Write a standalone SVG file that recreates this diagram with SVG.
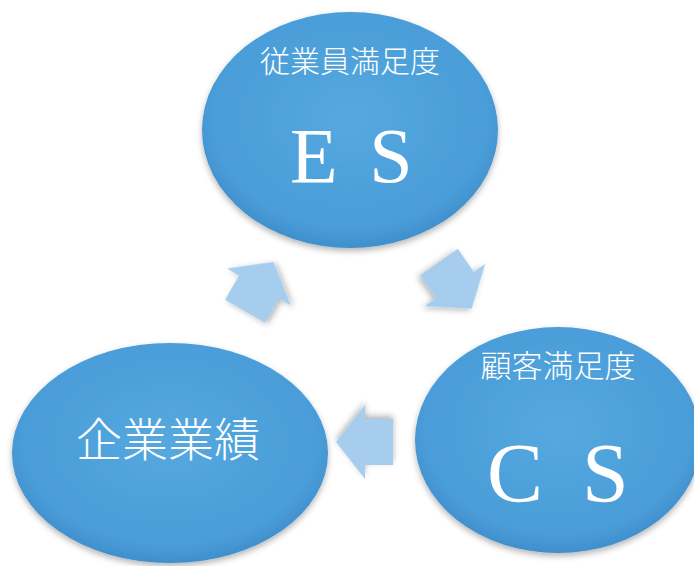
<svg xmlns="http://www.w3.org/2000/svg" width="694" height="566" viewBox="0 0 694 566">
  <defs>
    <radialGradient id="blue" cx="50%" cy="45%" r="55%">
      <stop offset="0" stop-color="#55a8df"/>
      <stop offset="0.85" stop-color="#4a9dd8"/>
      <stop offset="1" stop-color="#3f8fcc"/>
    </radialGradient>
    <filter id="shadow" x="-10%" y="-10%" width="120%" height="125%">
      <feGaussianBlur in="SourceAlpha" stdDeviation="3"/>
      <feOffset dx="0" dy="3" result="b"/>
      <feComponentTransfer><feFuncA type="linear" slope="0.3"/></feComponentTransfer>
      <feMerge><feMergeNode/><feMergeNode in="SourceGraphic"/></feMerge>
    </filter>
    <path id="arrow" d="M-28,-23 L0,-23 L0,-37 L29,0 L0,37 L0,23 L-28,23 Z"/>
  </defs>
  <style>
    .node { fill: url(#blue); filter: url(#shadow); }
    .arr { fill: #a6cdee; filter: url(#shadow); }
    .jp { fill: #ffffff; font-family: "Noto Sans CJK JP", sans-serif; font-weight: 300; text-anchor: middle; }
    .lat { fill: #ffffff; font-family: "Liberation Serif", serif; }
  </style>
  <rect width="694" height="566" fill="#ffffff"/>

  <g id="es">
    <ellipse class="node" cx="350" cy="130" rx="148" ry="118"/>
    <text class="jp" x="350" y="72" font-size="30">従業員満足度</text>
    <text class="lat" x="290" y="182" font-size="78" word-spacing="12">E S</text>
  </g>

  <g id="cs">
    <ellipse class="node" cx="558" cy="440" rx="143" ry="113"/>
    <text class="jp" x="558" y="377" font-size="31">顧客満足度</text>
    <text class="lat" x="487" y="502" font-size="84" word-spacing="18">C S</text>
  </g>

  <g id="kigyo">
    <ellipse class="node" cx="170" cy="453" rx="158" ry="110"/>
    <text class="jp" x="168" y="456" font-size="46">企業業績</text>
  </g>

  <g id="connectors">
    <use href="#arrow" class="arr" transform="translate(259,287) rotate(-60)"/>
    <use href="#arrow" class="arr" transform="translate(455,285) rotate(55)"/>
    <use href="#arrow" class="arr" transform="translate(365,442) rotate(180)"/>
  </g>
</svg>
